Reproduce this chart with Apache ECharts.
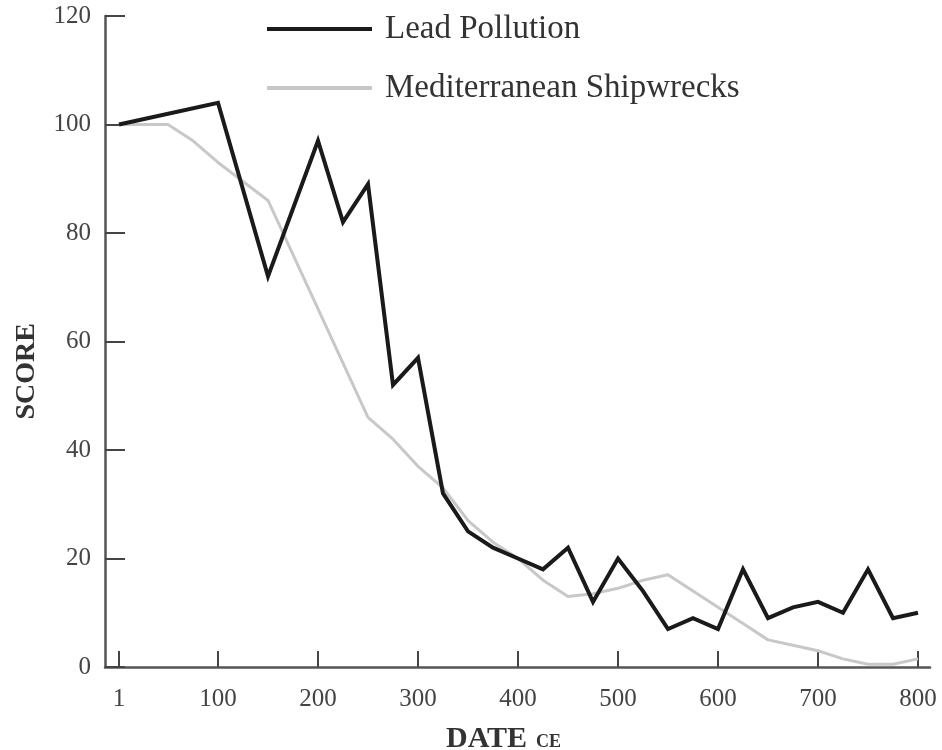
<!DOCTYPE html>
<html>
<head>
<meta charset="utf-8">
<script src="https://cdn.jsdelivr.net/npm/echarts@6/dist/echarts.min.js"></script>
<style>
html,body{margin:0;padding:0;background:#fff;}
#chart{width:942px;height:750px;}
</style>
</head>
<body>
<div id="chart"></div>
<script>
// Data
const leadYears = [1, 100, 150, 200, 225, 250, 275, 300, 325, 350, 375, 400, 425, 450, 475, 500, 525, 550, 575, 600, 625, 650, 675, 700, 725, 750, 775, 800];
const leadValues = [100, 104, 72, 97, 82, 89, 52, 57, 32, 25, 22, 20, 18, 22, 12, 20, 14, 7, 9, 7, 18, 9, 11, 12, 10, 18, 9, 10];
const shipYears = [1, 50, 75, 100, 125, 150, 175, 200, 225, 250, 275, 300, 325, 350, 375, 400, 425, 450, 475, 500, 525, 550, 575, 600, 625, 650, 675, 700, 725, 750, 775, 800];
const shipValues = [100, 100, 97, 93, 89.5, 86, 76, 66, 56, 46, 42, 37, 33, 27, 23, 20, 16, 13, 13.5, 14.5, 16, 17, 14, 11, 8, 5, 4, 3, 1.5, 0.5, 0.5, 1.5];
const xTicks = [1, 100, 200, 300, 400, 500, 600, 700, 800];
const seriesNames = ['Lead Pollution', 'Mediterranean Shipwrecks'];

const FONT = '"Liberation Serif", "DejaVu Serif", serif';
const chart = echarts.init(document.getElementById('chart'));
chart.setOption({
  backgroundColor: '#ffffff',
  animation: false,
  grid: { left: 105, right: 12, top: 16, bottom: 83, outerBoundsMode: 'none', containLabel: false },
  legend: {
    orient: 'vertical',
    left: 262,
    top: 2,
    itemWidth: 105,
    itemHeight: 4,
    itemGap: 15,
    textStyle: { fontFamily: FONT, fontSize: 33, color: '#333', lineHeight: 36, padding: [8, 0, 0, 8] },
    data: [
      { name: seriesNames[0], icon: 'rect' },
      { name: seriesNames[1], icon: 'rect' }
    ]
  },
  xAxis: {
    type: 'value',
    min: -13,
    max: 812,
    axisLine: { onZero: false, lineStyle: { color: '#555', width: 2.5 } },
    axisTick: { inside: true, length: 16, customValues: xTicks, lineStyle: { color: '#444', width: 2 } },
    axisLabel: { customValues: xTicks, margin: 20, fontFamily: FONT, fontSize: 25, color: '#444' },
    splitLine: { show: false }
  },
  yAxis: {
    type: 'value',
    min: 0,
    max: 120,
    interval: 20,
    axisLine: { show: true, onZero: false, lineStyle: { color: '#555', width: 2.5 } },
    axisTick: { show: true, inside: true, length: 20, lineStyle: { color: '#444', width: 2 } },
    axisLabel: { margin: 14, fontFamily: FONT, fontSize: 25, color: '#444' },
    splitLine: { show: false }
  },
  graphic: [
    {
      type: 'text',
      left: 13,
      top: 323,
      style: { text: 'SCORE', font: 'bold 28px ' + FONT, fill: '#333' },
      rotation: Math.PI / 2
    },
    {
      type: 'text',
      x: 446,
      y: 754,
      style: { text: 'DATE', font: 'bold 30px ' + FONT, fill: '#333', verticalAlign: 'bottom' }
    },
    {
      type: 'text',
      x: 536,
      y: 751,
      style: { text: 'CE', font: 'bold 18px ' + FONT, fill: '#333', verticalAlign: 'bottom' }
    }
  ],
  series: [
    {
      name: seriesNames[0],
      type: 'line',
      data: leadYears.map((y, i) => [y, leadValues[i]]),
      symbol: 'none',
      z: 3,
      lineStyle: { color: '#1a1a1a', width: 4, join: 'miter' },
      itemStyle: { color: '#1a1a1a' }
    },
    {
      name: seriesNames[1],
      type: 'line',
      data: shipYears.map((y, i) => [y, shipValues[i]]),
      symbol: 'none',
      z: 2,
      lineStyle: { color: '#c8c8c8', width: 3 },
      itemStyle: { color: '#c8c8c8' }
    }
  ]
});
</script>
</body>
</html>
